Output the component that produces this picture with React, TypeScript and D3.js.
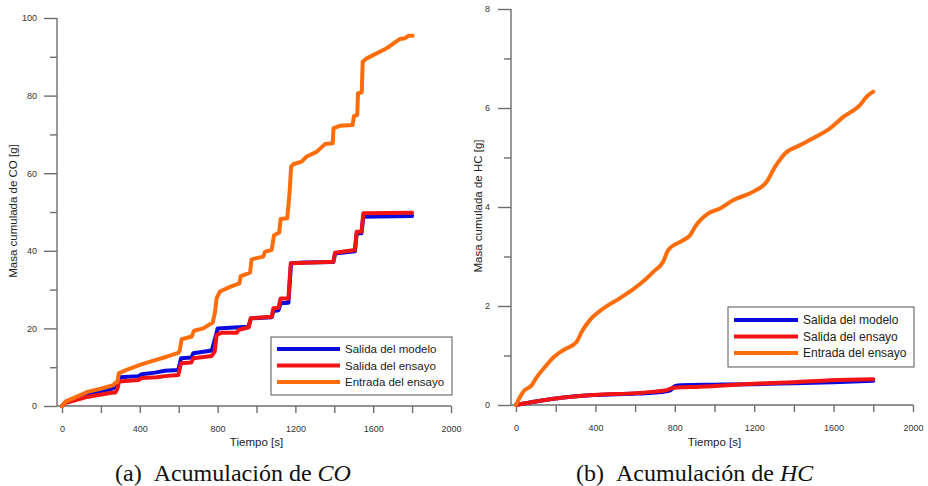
import React, { useEffect, useRef } from 'react';
import * as d3 from 'd3';

// [tiempo s, masa g]
const coModelo: [number, number][] = [[0,0],[20,1.1],[135,3.0],[260,4.5],[280,5.0],[298,7.4],[393,7.7],[410,8.2],[478,8.6],[530,9.1],[598,9.3],[612,12.3],[665,12.5],[675,13.6],[770,14.3],[790,18],[800,20],[907,20.3],[958,20.4],[972,22.6],[1078,22.9],[1087,24.5],[1113,24.7],[1124,26.5],[1164,26.6],[1178,36.8],[1250,37.0],[1395,37.1],[1404,39.3],[1506,39.9],[1515,44.5],[1540,44.5],[1549,48.8],[1800,49.0]];
const coEnsayo: [number, number][] = [[0,0],[20,0.8],[135,2.4],[255,3.4],[275,3.5],[285,4.5],[293,6.3],[393,6.7],[410,7.2],[487,7.4],[530,7.7],[598,8.0],[612,11.0],[665,11.2],[675,12.3],[770,12.9],[785,14],[795,18.3],[821,18.9],[900,18.9],[907,19.6],[960,20.3],[970,22.6],[1078,23],[1087,25.2],[1113,25.3],[1124,27.7],[1164,27.7],[1176,36.8],[1395,37.2],[1404,39.5],[1506,40.2],[1515,44.9],[1540,44.9],[1549,49.7],[1800,49.8]];
const coEntrada: [number, number][] = [[0,0],[20,1.2],[135,3.7],[204,4.5],[264,5.4],[275,6],[285,6.2],[292,8.4],[332,9.3],[401,10.6],[470,11.7],[538,12.7],[598,13.7],[605,14.2],[615,17.2],[667,17.9],[679,19.4],[726,20],[775,21.5],[787,24.3],[795,27.8],[812,29.5],[864,30.7],[912,31.6],[919,33.5],[967,34.4],[975,37.8],[1035,38.5],[1044,39.8],[1078,40.2],[1090,44],[1117,44.7],[1124,48.2],[1158,48.4],[1170,55],[1178,61.7],[1189,62.3],[1232,63],[1258,64.3],[1309,65.5],[1352,67.5],[1392,67.7],[1396,71.6],[1429,72.2],[1494,72.4],[1501,74.7],[1518,75],[1522,80.6],[1541,80.8],[1546,88.7],[1567,89.6],[1669,92.2],[1738,94.6],[1764,94.8],[1781,95.4],[1803,95.4]];

const hcModelo: [number, number][] = [[0,0],[100,0.07],[200,0.13],[390,0.2],[608,0.23],[700,0.25],[775,0.29],[800,0.38],[830,0.4],[1000,0.41],[1200,0.42],[1400,0.44],[1600,0.46],[1800,0.49]];
const hcEnsayo: [number, number][] = [[0,0],[100,0.07],[200,0.13],[390,0.2],[608,0.24],[700,0.27],[759,0.3],[793,0.35],[927,0.37],[1199,0.43],[1400,0.46],[1585,0.5],[1800,0.52]];
const hcEntrada: [number, number][] = [[0,0],[15,0.12],[37,0.27],[79,0.4],[104,0.56],[155,0.81],[188,0.96],[238,1.11],[306,1.28],[331,1.48],[373,1.72],[440,1.95],[524,2.16],[591,2.34],[650,2.53],[692,2.69],[742,2.9],[767,3.13],[843,3.33],[877,3.43],[902,3.6],[969,3.87],[1028,3.97],[1095,4.14],[1196,4.31],[1263,4.51],[1305,4.81],[1355,5.08],[1431,5.25],[1515,5.43],[1582,5.59],[1649,5.82],[1733,6.06],[1767,6.23],[1800,6.33]];

const seriesNames = ['Salida del modelo', 'Salida del ensayo', 'Entrada del ensayo'];
const seriesColors = ['#0a0adc', '#f21414', '#ff6d0a'];
const xTicks = d3.range(0, 2001, 200);
const xLabels = [0, 400, 800, 1200, 1600, 2000];

const font = '"Liberation Sans", Arial, sans-serif';
const axisColor = '#6e6e6e';

function drawPanel(svg: any, p: any) {
  const x = d3.scaleLinear().domain([0, 2000]).range(p.xRange);
  const y = d3.scaleLinear().domain([0, p.yMax]).range(p.yRange);
  const y0 = p.yRange[0];
  const g = svg.append('g');

  // axis lines
  g.append('line').attr('x1', p.axisX).attr('x2', x(2000)).attr('y1', y0).attr('y2', y0)
    .attr('stroke', axisColor).attr('stroke-width', 1.4);
  g.append('line').attr('x1', p.axisX).attr('x2', p.axisX).attr('y1', y(p.yMax)).attr('y2', y0)
    .attr('stroke', axisColor).attr('stroke-width', 1.4);

  const xAxis = g.append('g').attr('transform', `translate(0,${y0})`)
    .call(d3.axisBottom(x).tickValues(xTicks).tickSize(7).tickPadding(13).tickSizeOuter(0)
      .tickFormat((d: any) => (xLabels.includes(d) ? String(d) : '')));
  const yMajor = g.append('g').attr('transform', `translate(${p.axisX},0)`)
    .call(d3.axisLeft(y).tickValues(p.yMajor).tickSize(13).tickPadding(p.yPad).tickSizeOuter(0));
  const yMinor = g.append('g').attr('transform', `translate(${p.axisX},0)`)
    .call(d3.axisLeft(y).tickValues(p.yMinor).tickSize(7).tickFormat(() => '').tickSizeOuter(0));
  for (const a of [xAxis, yMajor, yMinor]) {
    a.select('.domain').remove();
    a.selectAll('line').attr('stroke', axisColor).attr('stroke-width', 1.4);
    a.selectAll('text').attr('fill', '#333').style('font-family', font).style('font-size', '9px');
  }

  const line = d3.line<[number, number]>().x(d => x(d[0])).y(d => y(d[1])).curve(p.curve);
  p.series.forEach((s: [number, number][], i: number) => {
    g.append('path').datum(s).attr('fill', 'none').attr('stroke', seriesColors[i])
      .attr('stroke-width', 4).attr('stroke-linejoin', 'round').attr('stroke-linecap', 'round')
      .attr('d', line);
  });

  // labels
  g.append('text').attr('x', (x(0) + x(2000)) / 2).attr('y', 446).attr('text-anchor', 'middle')
    .style('font-family', font).style('font-size', '11.5px').attr('fill', '#222').text('Tiempo [s]');
  g.append('text').attr('transform', `translate(${p.yLabelX},${p.yLabelY}) rotate(-90)`)
    .attr('text-anchor', 'middle').attr('dy', '0.35em')
    .style('font-family', font).style('font-size', '11.5px').attr('fill', '#222').text(p.yLabel);

  // legend
  const L = p.legend;
  g.append('rect').attr('x', L.x).attr('y', L.y).attr('width', L.w).attr('height', L.h)
    .attr('fill', 'white').attr('stroke', '#555').attr('stroke-width', 1);
  seriesNames.forEach((n, i) => {
    const ry = L.y + L.first + i * L.step;
    g.append('line').attr('x1', L.x + 6).attr('x2', L.x + L.lineW).attr('y1', ry).attr('y2', ry)
      .attr('stroke', seriesColors[i]).attr('stroke-width', 4);
    g.append('text').attr('x', L.x + L.lineW + 5).attr('y', ry).attr('dy', '0.35em')
      .style('font-family', font).style('font-size', L.fs).attr('fill', '#222').text(n);
  });

  // caption
  const cap = g.append('text').attr('x', p.capX).attr('y', 481)
    .style('font-family', '"Liberation Serif", "Times New Roman", serif').style('font-size', '24px').attr('fill', '#111');
  cap.append('tspan').text(`(${p.tag})\u00a0\u00a0Acumulación de `);
  cap.append('tspan').style('font-style', 'italic').text(p.gas);
}

export default function App() {
  const ref = useRef<SVGSVGElement>(null);
  useEffect(() => {
    const svg = d3.select(ref.current);
    svg.selectAll('*').remove();
    svg.append('rect').attr('width', 928).attr('height', 486).attr('fill', 'white');
    drawPanel(svg, {
      xRange: [62, 451], yRange: [406, 18], yMax: 100, axisX: 57, yPad: 7,
      yMajor: [0, 20, 40, 60, 80, 100], yMinor: [10, 30, 50, 70, 90],
      series: [coModelo, coEnsayo, coEntrada], curve: d3.curveLinear,
      yLabel: 'Masa cumulada de CO [g]', yLabelX: 13, yLabelY: 211,
      legend: { x: 271, y: 337, w: 181, h: 58, first: 12, step: 16.5, lineW: 69, fs: '11.5px' },
      capX: 115, tag: 'a', gas: 'CO',
    });
    drawPanel(svg, {
      xRange: [516, 913], yRange: [405, 9], yMax: 8, axisX: 511, yPad: 8,
      yMajor: [0, 2, 4, 6, 8], yMinor: [1, 3, 5, 7],
      series: [hcModelo, hcEnsayo, hcEntrada], curve: d3.curveMonotoneX,
      yLabel: 'Masa cumulada de HC [g]', yLabelX: 478, yLabelY: 206,
      legend: { x: 728, y: 307, w: 186, h: 60, first: 13, step: 16.5, lineW: 70, fs: '12px' },
      capX: 576, tag: 'b', gas: 'HC',
    });
  }, []);
  return <svg ref={ref} width={928} height={486} style={{ position: 'absolute', left: 0, top: 0 }} />;
}
